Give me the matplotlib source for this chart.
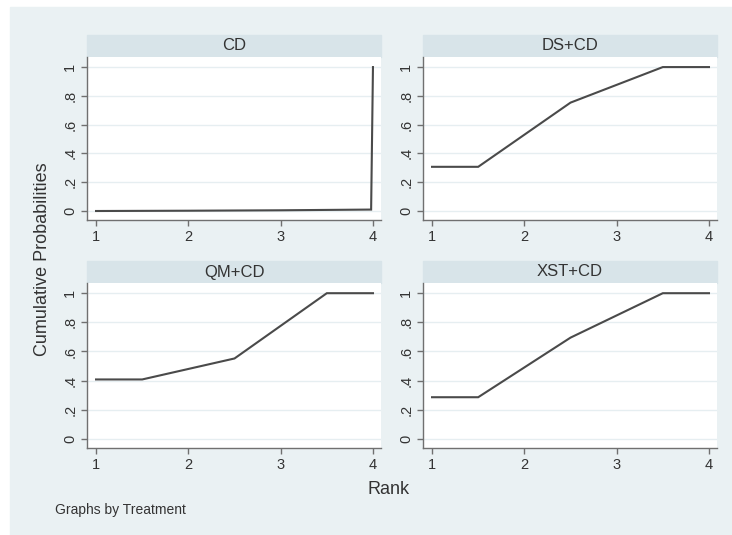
import numpy as np
import matplotlib
matplotlib.use("Agg")
import matplotlib.pyplot as plt
from matplotlib.patches import Rectangle

plt.rcParams['font.family'] = ['Liberation Sans', 'DejaVu Sans']

# cumulative rank probabilities by treatment
treatments = ["CD", "DS+CD", "QM+CD", "XST+CD"]
rank_cd = [1, 2, 3, 3.98, 4]
prob_cd = [0.0, 0.002, 0.005, 0.01, 1.0]
rank_ds = [1, 1.5, 2.5, 3.5, 4]
prob_ds = [0.307, 0.307, 0.753, 1.0, 1.0]
rank_qm = [1, 1.5, 2.5, 3.5, 4]
prob_qm = [0.408, 0.408, 0.552, 1.0, 1.0]
rank_xst = [1, 1.5, 2.5, 3.5, 4]
prob_xst = [0.286, 0.286, 0.695, 1.0, 1.0]

series = {
  "CD": (rank_cd, prob_cd),
  "DS+CD": (rank_ds, prob_ds),
  "QM+CD": (rank_qm, prob_qm),
  "XST+CD": (rank_xst, prob_xst),
}

x_ticks = [1, 2, 3, 4]
y_ticks = [0, 0.2, 0.4, 0.6, 0.8, 1.0]
y_labels = ["0", ".2", ".4", ".6", ".8", "1"]

W, H = 732, 535
bg = "#eaf1f3"
strip = "#d8e4e9"
line_col = "#4a4a4a"
axis_col = "#707070"

fig = plt.figure(figsize=(W / 100, H / 100), dpi=100)
fig.patch.set_facecolor("white")
fig.add_artist(Rectangle((10 / W, 0), 1 - 10 / W, 1 - 7 / H,
                         transform=fig.transFigure, color=bg, zorder=-10))

# panel boxes in pixels: left, top of plot area, width, height
panels = [
  ("CD", 87, 57, 294, 163),
  ("DS+CD", 423, 57, 294, 163),
  ("QM+CD", 87, 283, 294, 165),
  ("XST+CD", 423, 283, 294, 165),
]
strip_h = 22

for name, px, py, pw, ph in panels:
  ax = fig.add_axes([px / W, 1 - (py + ph) / H, pw / W, ph / H])
  ax.set_facecolor("white")
  xs, ys = series[name]
  ax.plot(xs, ys, color=line_col, lw=1.5, solid_joinstyle="miter", zorder=3)

  ax.set_xlim(0.902, 4.087)
  ax.set_ylim(-0.0625, 1.07)
  ax.set_xticks(x_ticks)
  ax.set_yticks(y_ticks)
  ax.set_yticklabels(y_labels, rotation=90, va="center")
  ax.grid(axis="y", color="#e6eef1", lw=1.0, zorder=0)
  ax.set_axisbelow(True)
  for s in ["top", "right"]:
    ax.spines[s].set_visible(False)
  for s in ["left", "bottom"]:
    ax.spines[s].set_color(axis_col)
    ax.spines[s].set_linewidth(1.0)
  ax.tick_params(colors=axis_col, labelcolor="#333333", labelsize=10.5,
                 length=4, width=1.0, pad=3)

  # treatment header strip
  fig.add_artist(Rectangle((px / W, 1 - py / H), pw / W, strip_h / H,
                           transform=fig.transFigure, color=strip, zorder=-5))
  fig.text((px + pw / 2) / W, 1 - (py - strip_h / 2) / H, name,
           ha="center", va="center", fontsize=12, color="#333333")

fig.text(43 / W, 1 - 259 / H, "Cumulative Probabilities", rotation=90,
         ha="center", va="center", fontsize=13, color="#333333")
fig.text(389 / W, 1 - 490 / H, "Rank", ha="center", va="center",
         fontsize=13, color="#333333")
fig.text(55 / W, 1 - 510 / H, "Graphs by Treatment", ha="left", va="center",
         fontsize=10, color="#333333")

fig.savefig("out.png", dpi=100, facecolor=fig.get_facecolor())
